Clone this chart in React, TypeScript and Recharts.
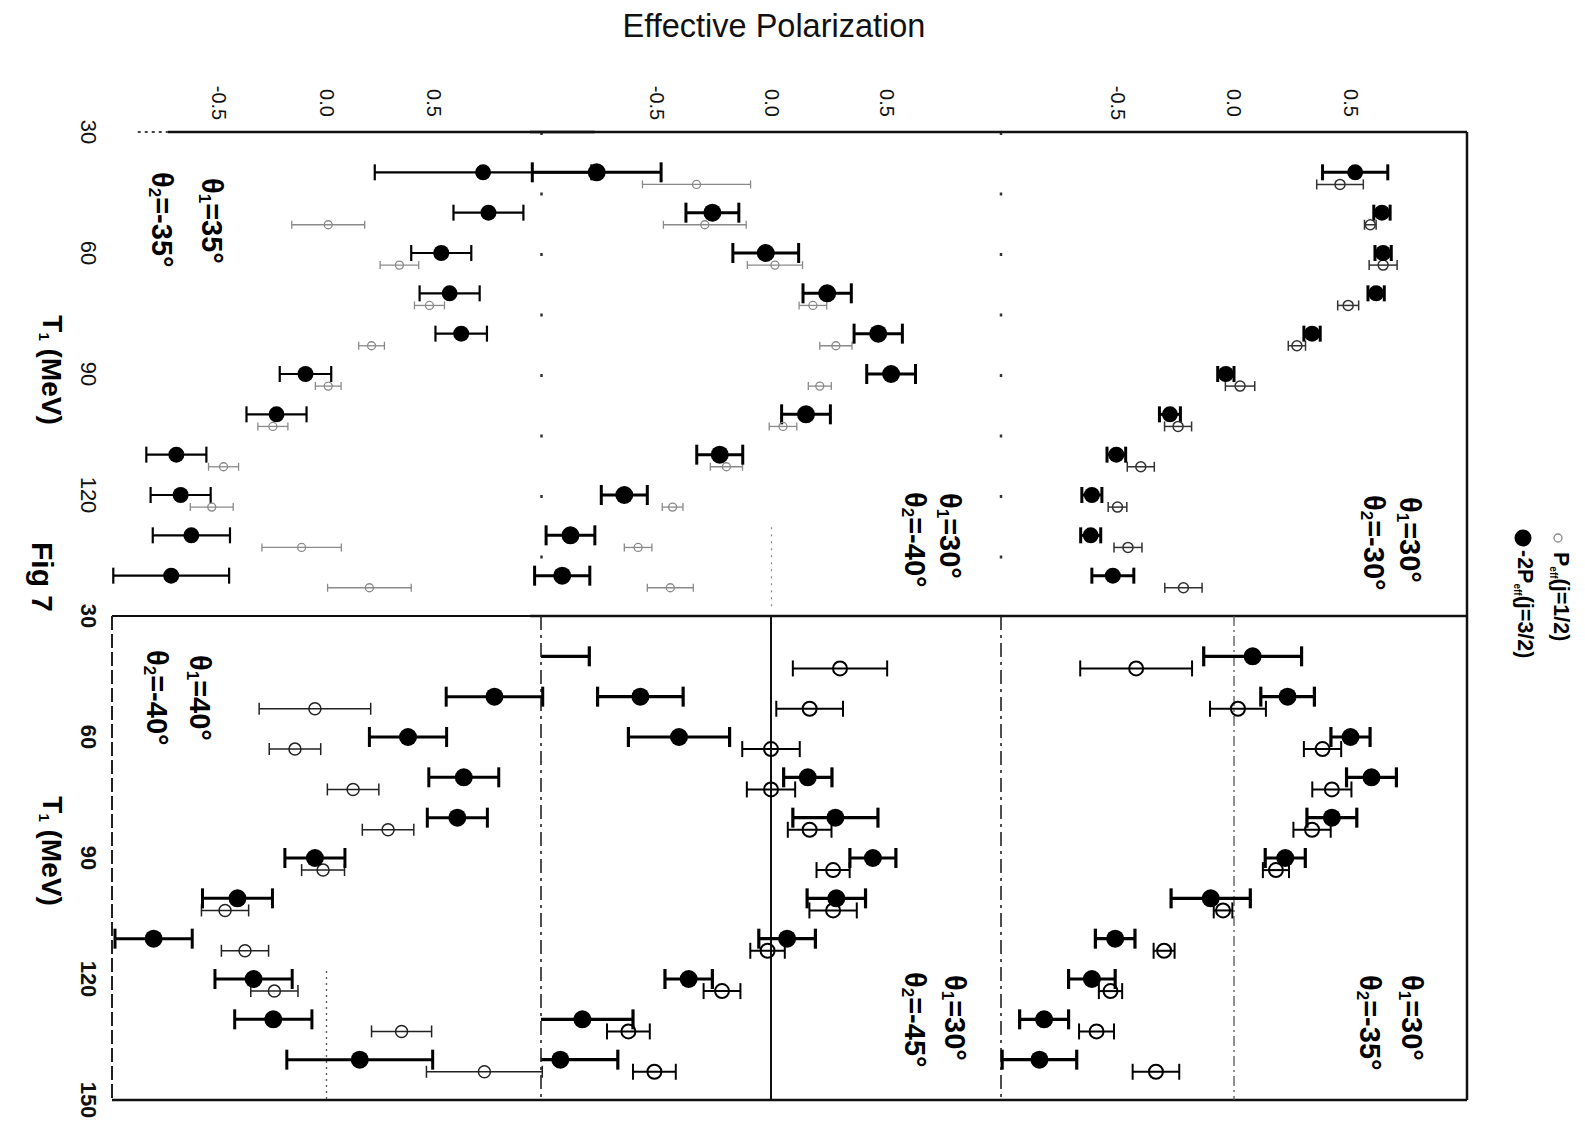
import React from 'react';
import { ScatterChart, Scatter, XAxis, YAxis, ErrorBar, ReferenceLine } from 'recharts';

const FONT = '"Liberation Sans", Arial, Helvetica, sans-serif';

// ---------- data ----------
const T_FILLED = [40, 50, 60, 70, 80, 90, 100, 110, 120, 130, 140];
const T_OPEN = [43, 53, 63, 73, 83, 93, 103, 113, 123, 133, 143];
const POL_TICKS = [-0.5, 0, 0.5];
const T_TICKS_TOP = [30, 60, 90, 120];
const T_TICKS_BOTTOM = [30, 60, 90, 120, 150];

// θ1=30°, θ2=-30°
const RT_FILLED = [0.52, 0.635, 0.64, 0.61, 0.335, -0.035, -0.275, -0.505, -0.61, -0.615, -0.52];
const RT_FILLED_ERR = [0.14, 0.035, 0.035, 0.035, 0.035, 0.035, 0.045, 0.04, 0.043, 0.043, 0.09];
const RT_OPEN = [0.455, 0.585, 0.64, 0.49, 0.27, 0.026, -0.24, -0.4, -0.5, -0.455, -0.217];
const RT_OPEN_ERR = [0.1, 0.025, 0.06, 0.045, 0.037, 0.063, 0.058, 0.058, 0.04, 0.06, 0.08];

// θ1=30°, θ2=-35°
const RB_FILLED = [0.08, 0.23, 0.5, 0.59, 0.42, 0.22, -0.1, -0.51, -0.61, -0.815, -0.835];
const RB_FILLED_ERR = [0.21, 0.115, 0.084, 0.107, 0.107, 0.086, 0.17, 0.085, 0.1, 0.105, 0.16];
const RB_OPEN = [-0.42, 0.017, 0.38, 0.42, 0.335, 0.18, -0.047, -0.3, -0.53, -0.59, -0.335];
const RB_OPEN_ERR = [0.24, 0.12, 0.08, 0.084, 0.08, 0.056, 0.04, 0.045, 0.05, 0.075, 0.1];

// θ1=30°, θ2=-40°
const MT_FILLED = [-0.76, -0.257, -0.025, 0.242, 0.464, 0.52, 0.15, -0.225, -0.64, -0.874, -0.91];
const MT_FILLED_ERR = [0.28, 0.115, 0.143, 0.105, 0.105, 0.106, 0.106, 0.1, 0.1, 0.106, 0.12];
const MT_OPEN = [-0.326, -0.29, 0.015, 0.18, 0.28, 0.21, 0.05, -0.196, -0.43, -0.58, -0.44];
const MT_OPEN_ERR = [0.235, 0.18, 0.12, 0.06, 0.07, 0.05, 0.06, 0.07, 0.045, 0.06, 0.1];

// θ1=30°, θ2=-45°
const MB_FILLED = [-1.05, -0.568, -0.4, 0.16, 0.28, 0.443, 0.284, 0.07, -0.358, -0.82, -0.916];
const MB_FILLED_ERR = [0.26, 0.186, 0.22, 0.105, 0.185, 0.1, 0.127, 0.123, 0.103, 0.22, 0.25];
const MB_OPEN = [0.3, 0.168, 0.0, 0.0, 0.168, 0.27, 0.27, -0.015, -0.213, -0.62, -0.507];
const MB_OPEN_ERR = [0.205, 0.145, 0.125, 0.105, 0.095, 0.072, 0.103, 0.075, 0.08, 0.093, 0.093];

// θ1=35°, θ2=-35°
const LT_FILLED = [0.73, 0.755, 0.535, 0.574, 0.628, -0.098, -0.233, -0.7, -0.68, -0.63, -0.724];
const LT_FILLED_ERR = [0.505, 0.163, 0.14, 0.14, 0.12, 0.12, 0.14, 0.14, 0.14, 0.18, 0.27];
const LT_OPEN = [null, 0.008, 0.34, 0.48, 0.21, 0.008, -0.25, -0.48, -0.535, -0.116, 0.2];
const LT_OPEN_ERR = [null, 0.17, 0.09, 0.07, 0.06, 0.06, 0.07, 0.07, 0.1, 0.185, 0.195];

// θ1=40°, θ2=-40°
const LB_FILLED = [null, 0.783, 0.38, 0.64, 0.61, -0.054, -0.415, -0.806, -0.34, -0.248, 0.155];
const LB_FILLED_ERR = [null, 0.225, 0.18, 0.163, 0.14, 0.14, 0.163, 0.18, 0.18, 0.18, 0.34];
const LB_OPEN = [null, -0.054, -0.147, 0.124, 0.287, -0.016, -0.473, -0.38, -0.243, 0.35, 0.736];
const LB_OPEN_ERR = [null, 0.26, 0.12, 0.12, 0.12, 0.1, 0.11, 0.11, 0.11, 0.14, 0.27];

type Pt = { t: number; p: number; e: number };
function toPoints(ts: number[], vals: (number | null)[], errs: (number | null)[]): Pt[] {
  const out: Pt[] = [];
  ts.forEach((t, i) => {
    const v = vals[i];
    const e = errs[i];
    if (v !== null && v !== undefined) out.push({ t, p: v, e: e ?? 0 });
  });
  return out;
}

// ---------- styling / layout ----------
type Line = {
  x?: number; y?: number;
  seg?: [{ x: number; y: number }, { x: number; y: number }];
  stroke: string; w: number; dash?: string;
};
type Style = { fR: number; fW: number; fCap: number; oR: number; oW: number; oCap: number; oColor: string };
type Spec = {
  id: string;
  x0: number; x1: number; y0: number; y1: number;
  domain: [number, number];
  top: boolean;
  padLeft?: number;
  leftTicks?: number[];
  boldTicks?: boolean;
  filled: Pt[];
  open: Pt[];
  style: Style;
  lines: Line[];
};

const SOLID = '#111';
const TOP_DIV = '3 57.5';
const PAD = 24;

const PANELS: Spec[] = [
  {
    id: 'rt', x0: 1001, x1: 1467, y0: 132, y1: 616, domain: [-1, 1], top: true,
    filled: toPoints(T_FILLED, RT_FILLED, RT_FILLED_ERR),
    open: toPoints(T_OPEN, RT_OPEN, RT_OPEN_ERR),
    style: { fR: 8, fW: 3, fCap: 8, oR: 5, oW: 1.5, oCap: 5, oColor: '#333' },
    lines: [
      { y: 30, stroke: SOLID, w: 2.5 },
      { y: 150, stroke: SOLID, w: 2.5 },
      { x: 1, stroke: SOLID, w: 2.5 },
      { x: -1, stroke: '#333', w: 2.5, dash: TOP_DIV },
    ],
  },
  {
    id: 'rb', x0: 1001, x1: 1467, y0: 616, y1: 1100, domain: [-1, 1], top: false,
    filled: toPoints(T_FILLED, RB_FILLED, RB_FILLED_ERR),
    open: toPoints(T_OPEN, RB_OPEN, RB_OPEN_ERR),
    style: { fR: 9, fW: 3.2, fCap: 10, oR: 7, oW: 2, oCap: 8, oColor: '#000' },
    lines: [
      { y: 150, stroke: SOLID, w: 2.5 },
      { x: 1, stroke: SOLID, w: 2.5 },
      { x: -1, stroke: '#222', w: 1.6, dash: '14 5 3 5' },
      { x: 0, stroke: '#555', w: 1.3, dash: '10 4 2 4' },
    ],
  },
  {
    id: 'mt', x0: 541, x1: 1001, y0: 132, y1: 616, domain: [-1.05, 1], top: true,
    filled: toPoints(T_FILLED, MT_FILLED, MT_FILLED_ERR),
    open: toPoints(T_OPEN, MT_OPEN, MT_OPEN_ERR),
    style: { fR: 9, fW: 3, fCap: 10, oR: 4, oW: 1.3, oCap: 4, oColor: '#8a8a8a' },
    lines: [
      { y: 30, stroke: SOLID, w: 2.5 },
      { y: 150, stroke: SOLID, w: 2.5 },
      { x: -1, stroke: '#333', w: 2.5, dash: TOP_DIV },
      { seg: [{ x: 0, y: 128 }, { x: 0, y: 148 }], stroke: '#888', w: 1.2, dash: '2 5' },
    ],
  },
  {
    id: 'mb', x0: 541, x1: 1001, y0: 616, y1: 1100, domain: [-1, 1], top: false, padLeft: 0,
    filled: toPoints(T_FILLED, MB_FILLED, MB_FILLED_ERR),
    open: toPoints(T_OPEN, MB_OPEN, MB_OPEN_ERR),
    style: { fR: 9, fW: 3.2, fCap: 10, oR: 7, oW: 2, oCap: 8, oColor: '#000' },
    lines: [
      { y: 150, stroke: SOLID, w: 2.5 },
      { x: 0, stroke: '#111', w: 2 },
    ],
  },
  {
    id: 'lt', x0: 112, x1: 541, y0: 132, y1: 616, domain: [-1, 1.25], top: true,
    leftTicks: T_TICKS_TOP, boldTicks: false,
    filled: toPoints(T_FILLED, LT_FILLED, LT_FILLED_ERR),
    open: toPoints(T_OPEN, LT_OPEN, LT_OPEN_ERR),
    style: { fR: 8, fW: 2.2, fCap: 8, oR: 4, oW: 1.3, oCap: 4, oColor: '#8a8a8a' },
    lines: [
      { seg: [{ x: -0.88, y: 30 }, { x: -0.74, y: 30 }], stroke: '#444', w: 2, dash: '3 4' },
      { seg: [{ x: -0.74, y: 30 }, { x: 1.25, y: 30 }], stroke: SOLID, w: 2.5 },
      { y: 150, stroke: SOLID, w: 2.2 },
    ],
  },
  {
    id: 'lb', x0: 112, x1: 541, y0: 616, y1: 1100, domain: [-1, 1], top: false,
    leftTicks: T_TICKS_BOTTOM, boldTicks: true,
    filled: toPoints(T_FILLED, LB_FILLED, LB_FILLED_ERR),
    open: toPoints(T_OPEN, LB_OPEN, LB_OPEN_ERR),
    style: { fR: 9, fW: 3, fCap: 10, oR: 6, oW: 1.5, oCap: 6, oColor: '#222' },
    lines: [
      { y: 150, stroke: SOLID, w: 2.5 },
      { x: -1, stroke: '#222', w: 2, dash: '14 4' },
      { x: 1, stroke: '#222', w: 1.6, dash: '14 5 3 5' },
      { seg: [{ x: 0, y: 118 }, { x: 0, y: 150 }], stroke: '#555', w: 1.3, dash: '2 4' },
    ],
  },
];

const PolTick = (props: any) => {
  const { x, y, payload } = props;
  return (
    <text
      transform={`translate(${x},${y - 29}) rotate(90)`}
      textAnchor="middle"
      dominantBaseline="central"
      fontSize={20}
      fontFamily={FONT}
      fill="#111"
    >
      {Number(payload.value).toFixed(1)}
    </text>
  );
};

const makeTTick = (bold: boolean) => (props: any) => {
  const { x, y, payload } = props;
  return (
    <text
      transform={`translate(${x - 24},${y}) rotate(90)`}
      textAnchor="middle"
      dominantBaseline="central"
      fontSize={22}
      fontWeight={bold ? 'bold' : 'normal'}
      fontFamily={FONT}
      fill="#111"
    >
      {payload.value}
    </text>
  );
};

function Panel({ spec }: { spec: Spec }) {
  const unit = (spec.x1 - spec.x0) / 2;
  const plotX = spec.x0 + (spec.domain[0] + 1) * unit;
  const plotW = (spec.domain[1] - spec.domain[0]) * unit;
  const plotH = spec.y1 - spec.y0;
  const yw = spec.leftTicks ? 60 : 0;
  const xh = spec.top ? 60 : 0;
  const pl = spec.padLeft ?? PAD;
  const s = spec.style;

  const filledShape = (p: any) => <circle cx={p.cx} cy={p.cy} r={s.fR} fill="#000" />;
  const openShape = (p: any) => (
    <circle cx={p.cx} cy={p.cy} r={s.oR} fill="none" stroke={s.oColor} strokeWidth={s.oW} />
  );

  return (
    <div style={{ position: 'absolute', left: plotX - yw - pl, top: spec.y0 - xh - PAD }}>
      <ScatterChart
        width={plotW + yw + pl + PAD}
        height={plotH + xh + 2 * PAD}
        margin={{ top: PAD, right: PAD, bottom: PAD, left: pl }}
      >
        <XAxis
          xAxisId={0}
          type="number"
          dataKey="p"
          domain={spec.domain}
          allowDataOverflow
          ticks={POL_TICKS}
          interval={0}
          orientation="top"
          hide={!spec.top}
          height={xh}
          axisLine={false}
          tickLine={false}
          tickSize={0}
          tickMargin={0}
          tick={PolTick}
        />
        <YAxis
          yAxisId={0}
          type="number"
          dataKey="t"
          domain={[30, 150]}
          reversed
          ticks={spec.leftTicks || T_TICKS_BOTTOM}
          interval={0}
          hide={!spec.leftTicks}
          width={yw}
          axisLine={false}
          tickLine={false}
          tickSize={0}
          tickMargin={0}
          tick={makeTTick(!!spec.boldTicks)}
        />
        {spec.lines.map((l, i) => {
          if (l.seg) {
            return (
              <ReferenceLine key={i} segment={l.seg} stroke={l.stroke} strokeWidth={l.w} strokeDasharray={l.dash} />
            );
          }
          return l.x !== undefined ? (
            <ReferenceLine key={i} x={l.x} stroke={l.stroke} strokeWidth={l.w} strokeDasharray={l.dash} />
          ) : (
            <ReferenceLine key={i} y={l.y} stroke={l.stroke} strokeWidth={l.w} strokeDasharray={l.dash} />
          );
        })}
        <Scatter name="P_eff(j=1/2)" data={spec.open} shape={openShape} isAnimationActive={false}>
          <ErrorBar dataKey="e" direction="x" width={s.oCap} strokeWidth={s.oW} stroke={s.oColor} isAnimationActive={false} />
        </Scatter>
        <Scatter name="-2P_eff(j=3/2)" data={spec.filled} shape={filledShape} isAnimationActive={false}>
          <ErrorBar dataKey="e" direction="x" width={s.fCap} strokeWidth={s.fW} stroke="#000" isAnimationActive={false} />
        </Scatter>
      </ScatterChart>
    </div>
  );
}

type Lbl = { a: string; b: string; x1: number; y1: number; x2: number; y2: number };
const THETA_LABELS: Lbl[] = [
  { a: '30°', b: '-30°', x1: 1410, y1: 497, x2: 1374, y2: 495 },
  { a: '30°', b: '-35°', x1: 1412, y1: 975, x2: 1370, y2: 975 },
  { a: '30°', b: '-40°', x1: 950, y1: 493, x2: 915, y2: 492 },
  { a: '30°', b: '-45°', x1: 955, y1: 975, x2: 915, y2: 972 },
  { a: '35°', b: '-35°', x1: 212, y1: 178, x2: 162, y2: 172 },
  { a: '40°', b: '-40°', x1: 200, y1: 655, x2: 157, y2: 650 },
];

function Theta({ x, y, sub, val }: { x: number; y: number; sub: string; val: string }) {
  return (
    <text
      transform={`translate(${x},${y}) rotate(90)`}
      textAnchor="start"
      dominantBaseline="central"
      fontSize={29}
      fontWeight="bold"
      fontFamily={FONT}
      fill="#000"
    >
      θ
      <tspan dy={7} fontSize={17}>{sub}</tspan>
      <tspan dy={-7}>={val}</tspan>
    </text>
  );
}

function Overlay() {
  return (
    <svg width={1585} height={1124} style={{ position: 'absolute', left: 0, top: 0 }}>
      <text x={774} y={26} textAnchor="middle" dominantBaseline="central" fontSize={32.5} fontFamily={FONT} fill="#111">
        Effective Polarization
      </text>
      {[370, 851].map((cy) => (
        <text
          key={cy}
          transform={`translate(52,${cy}) rotate(90)`}
          textAnchor="middle"
          dominantBaseline="central"
          fontSize={28}
          fontWeight="bold"
          fontFamily={FONT}
          fill="#000"
        >
          T<tspan dy={7} fontSize={15}>1</tspan>
          <tspan dy={-7}> (MeV)</tspan>
        </text>
      ))}
      <text
        transform="translate(42,577) rotate(90)"
        textAnchor="middle"
        dominantBaseline="central"
        fontSize={30}
        fontWeight="bold"
        fontFamily={FONT}
        fill="#000"
      >
        Fig 7
      </text>
      {THETA_LABELS.map((l, i) => (
        <g key={i}>
          <Theta x={l.x1} y={l.y1} sub="1" val={l.a} />
          <Theta x={l.x2} y={l.y2} sub="2" val={l.b} />
        </g>
      ))}
      {/* legend */}
      <circle cx={1558} cy={538} r={4} fill="none" stroke="#888" strokeWidth={1.3} />
      <circle cx={1523} cy={538} r={8.5} fill="#000" />
      <text
        transform="translate(1561,552) rotate(90)"
        textAnchor="start"
        dominantBaseline="central"
        fontSize={21.5}
        fontWeight="bold"
        fontFamily={FONT}
        fill="#000"
      >
        P<tspan dy={7} fontSize={10}>eff</tspan>
        <tspan dy={-7}>(j=1/2)</tspan>
      </text>
      <text
        transform="translate(1525,550) rotate(90)"
        textAnchor="start"
        dominantBaseline="central"
        fontSize={21.5}
        fontWeight="bold"
        fontFamily={FONT}
        fill="#000"
      >
        -2P<tspan dy={7} fontSize={10}>eff</tspan>
        <tspan dy={-7}>(j=3/2)</tspan>
      </text>
    </svg>
  );
}

export default function App() {
  return (
    <div
      style={{
        position: 'absolute',
        left: 0,
        top: 0,
        width: 1585,
        height: 1124,
        background: '#fff',
        fontFamily: FONT,
        overflow: 'hidden',
      }}
    >
      <Overlay />
      {PANELS.map((p) => (
        <Panel key={p.id} spec={p} />
      ))}
    </div>
  );
}
